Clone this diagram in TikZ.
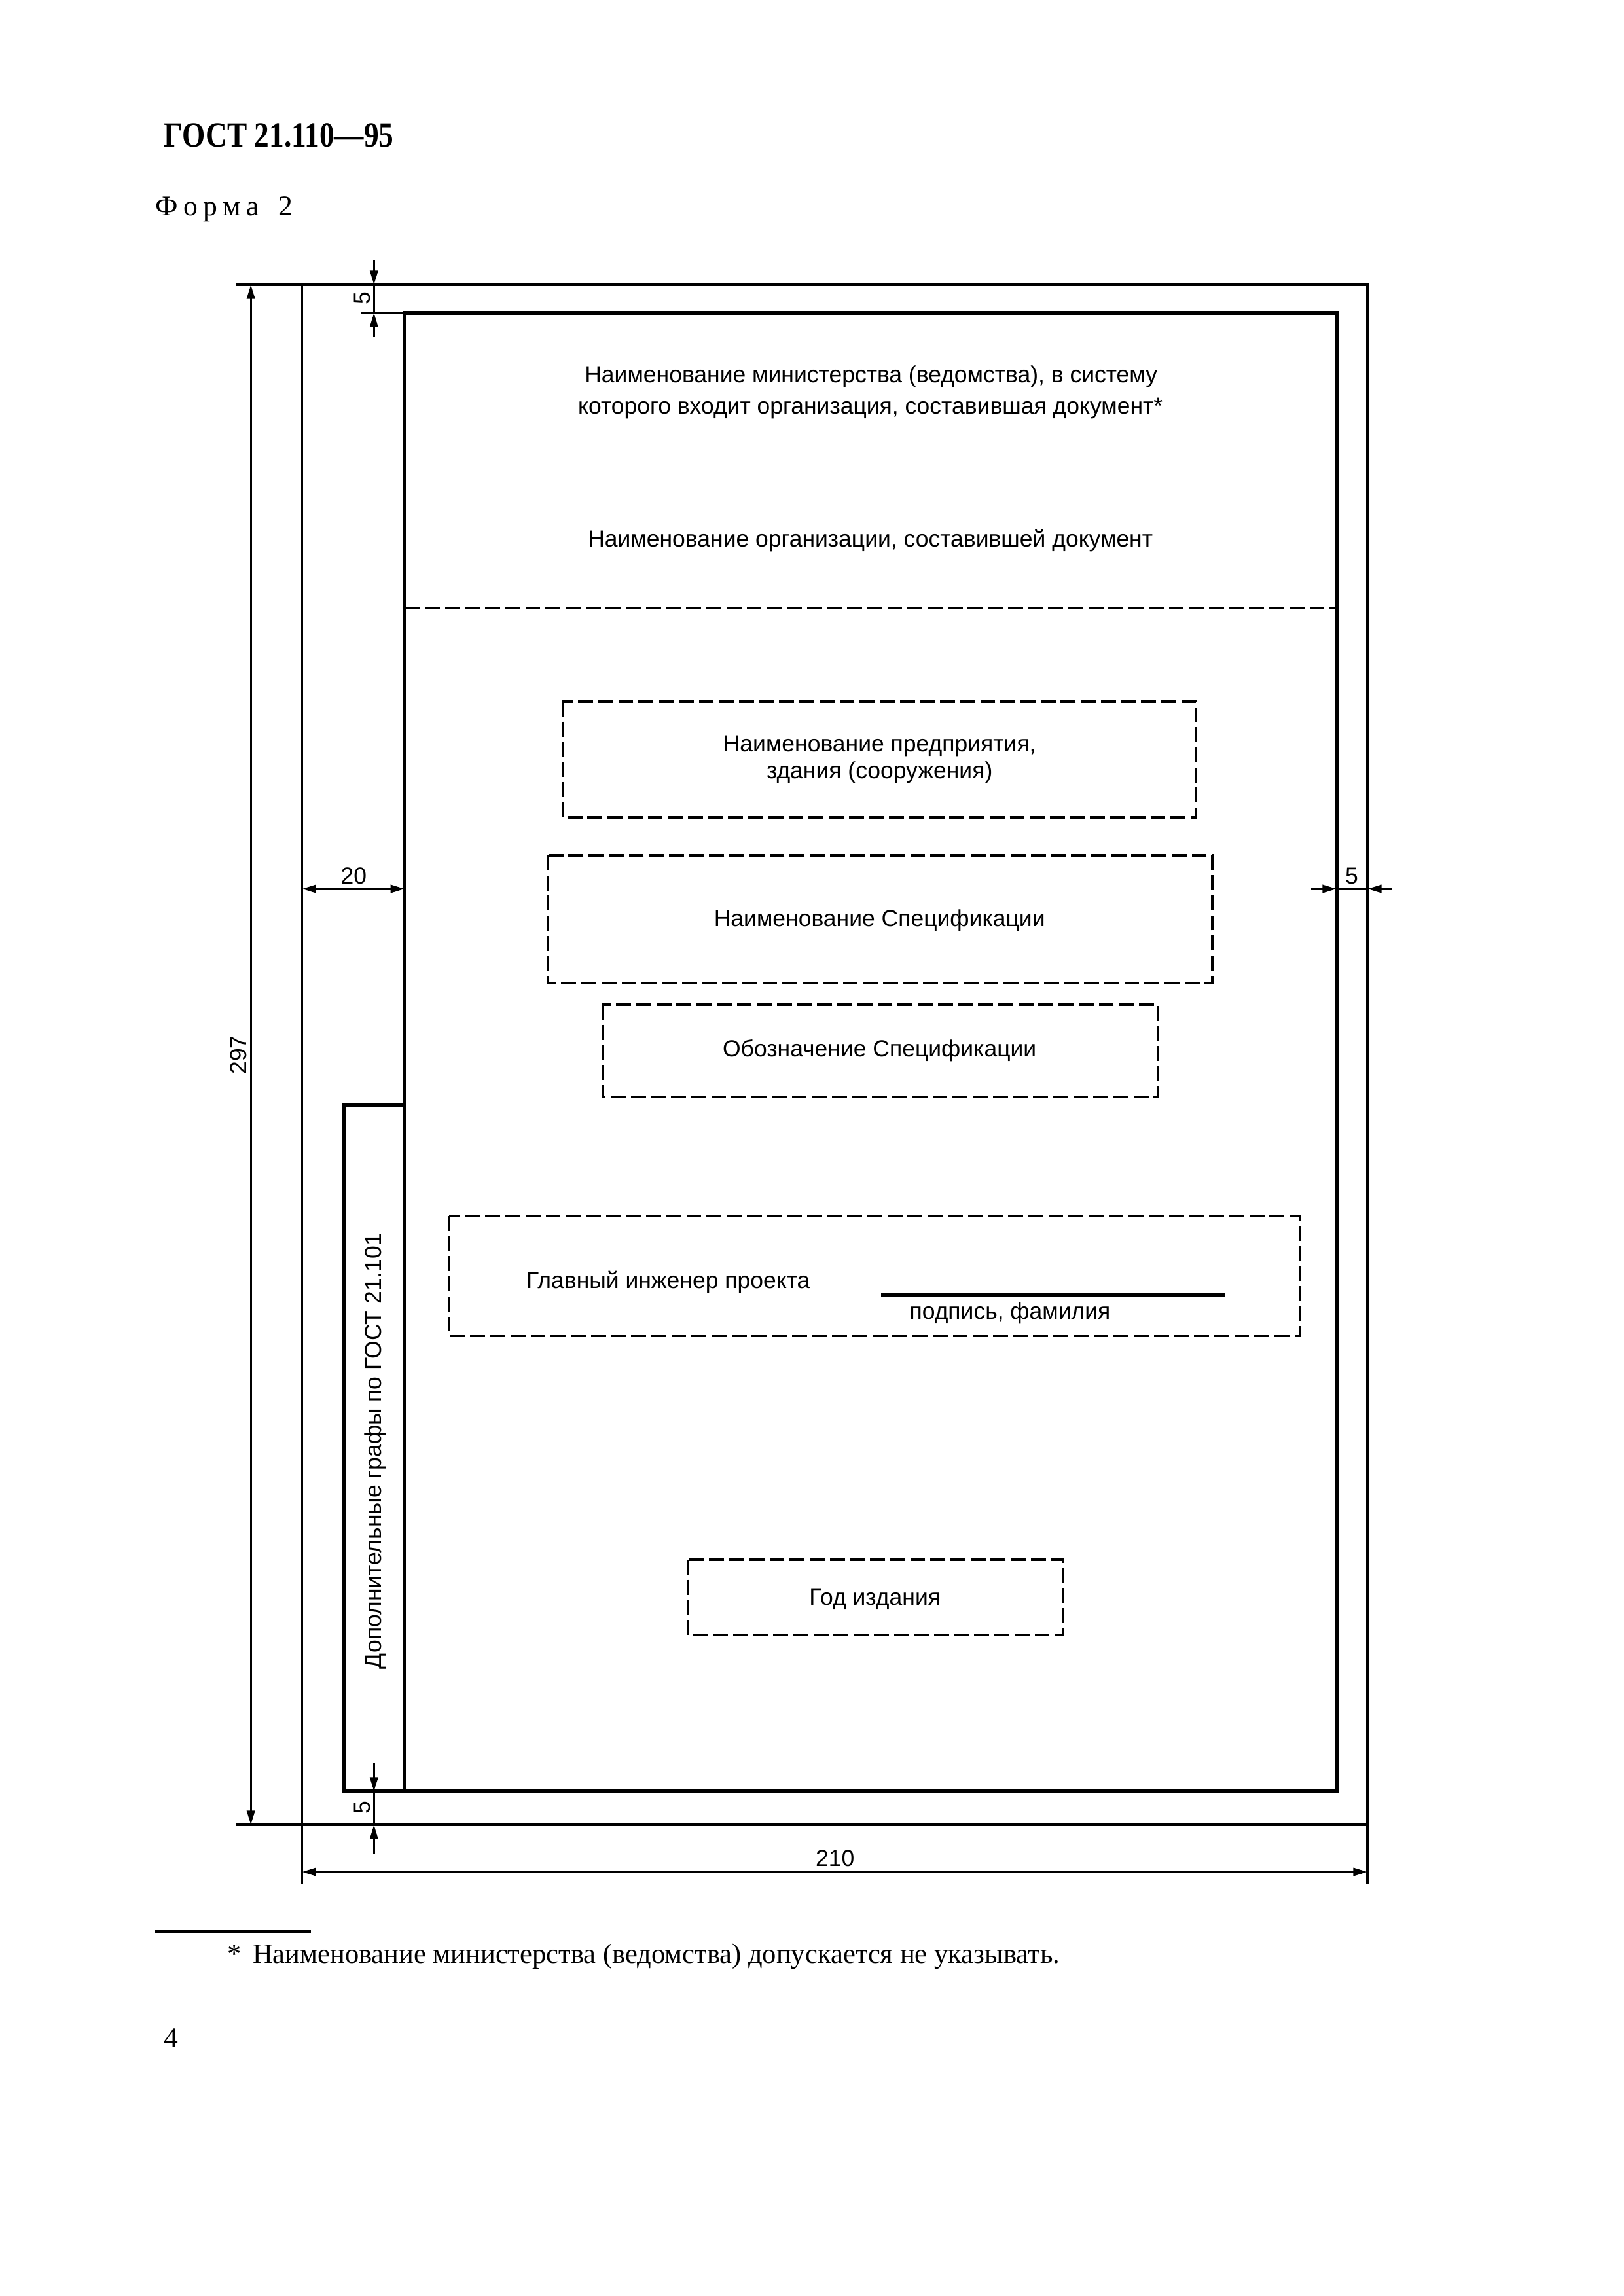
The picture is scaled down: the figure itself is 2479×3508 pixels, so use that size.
\documentclass[tikz,border=0pt]{standalone}
\usepackage{graphicx}
\usepackage{fontspec}
\setmainfont{Liberation Serif}
\newfontfamily\arialf{Liberation Sans}
\usetikzlibrary{arrows.meta}
\begin{document}
\begin{tikzpicture}[x=0.08471mm,y=-0.08467mm,
  thinln/.style={line width=0.8pt},
  thickln/.style={line width=1.45pt},
  dashbox/.style={line width=0.8pt, dash pattern=on 5.5pt off 1.9pt},
  dimtip/.style={-{Triangle[length=5.2pt,width=2.9pt]}},
  dimboth/.style={{Triangle[length=5.2pt,width=2.9pt]}-{Triangle[length=5.2pt,width=2.9pt]}},
  lbl/.style={font=\arialf\fontsize{8.55pt}{10pt}\selectfont, inner sep=0pt},
  serif/.style={font=\fontsize{10.5pt}{12pt}\selectfont, inner sep=0pt}]
\useasboundingbox (0,0) rectangle (2479,3508);

% header
\node[anchor=base west, inner sep=0pt] (title) at (250,224)
  {\fontsize{13pt}{15pt}\selectfont\bfseries\scalebox{0.84}[1]{ГОСТ 21.110—95}};
\node[serif, anchor=base west] (forma) at (237,329)
  {Ф\kern2pt о\kern2pt р\kern2pt м\kern2pt а\hspace{7pt}2};

% frame corners
\coordinate (OTL) at (461,435);
\coordinate (OTR) at (2088,435);
\coordinate (OBR) at (2088,2788);
\coordinate (OBL) at (461,2788);
\coordinate (ITL) at (618,478);
\coordinate (ITR) at (2041,478);
\coordinate (IBR) at (2041,2737);
\coordinate (IBL) at (618,2737);

\draw[thinln] (OTL) rectangle (OBR);
\draw[thickln] (ITL) rectangle (IBR);
\draw[thickln] (618,1689) -- (525,1689) -- (525,2737) -- (IBL);
\draw[dashbox] (618,929) -- (2041,929);

% extension lines
\coordinate (E297a) at (361,435);
\coordinate (E297b) at (361,2788);
\coordinate (E210a) at (461,2878);
\coordinate (E210b) at (2088,2878);
\coordinate (E5t) at (551,478);
\draw[thinln] (E297a) -- (OTL);
\draw[thinln] (E297b) -- (OBL);
\draw[thinln] (OBL) -- (E210a);
\draw[thinln] (OBR) -- (E210b);
\draw[thinln] (E5t) -- (ITL);

% dimension 297
\coordinate (D297a) at (383,435);
\coordinate (D297b) at (383,2788);
\draw[thinln, dimboth] (D297a) -- (D297b);
\node[lbl, rotate=90, anchor=base] (L297) at (376,1612) {297};

% dimension 210
\coordinate (D210a) at (461,2860);
\coordinate (D210b) at (2088,2860);
\draw[thinln, dimboth] (D210a) -- (D210b);
\node[lbl, anchor=base] (L210) at (1275,2851) {210};

% dimension 20
\coordinate (D20a) at (461,1358);
\coordinate (D20b) at (618,1358);
\draw[thinln, dimboth] (D20a) -- (D20b);
\node[lbl, anchor=base] (L20) at (540,1350) {20};

% right 5
\coordinate (R5s) at (2002,1358);
\coordinate (R5a) at (2041,1358);
\coordinate (R5b) at (2088,1358);
\coordinate (R5e) at (2125,1358);
\draw[thinln, dimtip] (R5s) -- (R5a);
\draw[thinln] (R5a) -- (R5b);
\draw[thinln, dimtip] (R5e) -- (R5b);
\node[lbl, anchor=base] (LR5) at (2064,1350) {5};

% top 5
\coordinate (T5s) at (571,398);
\coordinate (T5a) at (571,435);
\coordinate (T5b) at (571,478);
\coordinate (T5e) at (571,515);
\draw[thinln, dimtip] (T5s) -- (T5a);
\draw[thinln] (T5a) -- (T5b);
\draw[thinln, dimtip] (T5e) -- (T5b);
\node[lbl, rotate=90, anchor=base] (LT5) at (565,456) {5};

% bottom 5
\coordinate (B5s) at (571,2693);
\coordinate (B5a) at (571,2737);
\coordinate (B5b) at (571,2788);
\coordinate (B5e) at (571,2832);
\draw[thinln, dimtip] (B5s) -- (B5a);
\draw[thinln] (B5a) -- (B5b);
\draw[thinln, dimtip] (B5e) -- (B5b);
\node[lbl, rotate=90, anchor=base] (LB5) at (565,2762) {5};

% side text
\node[lbl, rotate=90, anchor=base] (side) at (582,2217) {Дополнительные графы по ГОСТ 21.101};

% upper texts
\node[lbl, anchor=base] (t1) at (1330,584) {Наименование министерства (ведомства), в систему};
\node[lbl, anchor=base] (t2) at (1329,632) {которого входит организация, составившая документ*};
\node[lbl, anchor=base] (t3) at (1329,835) {Наименование организации, составившей документ};

% box 1
\draw[dashbox] (859,1072) rectangle (1826,1249);
\node[lbl, anchor=base] (b1a) at (1343,1148) {Наименование предприятия,};
\node[lbl, anchor=base] (b1b) at (1343,1189) {здания (сооружения)};

% box 2
\draw[dashbox] (837,1307) rectangle (1851,1502);
\node[lbl, anchor=base] (b2) at (1343,1415) {Наименование Спецификации};

% box 3
\draw[dashbox] (920,1535) rectangle (1768,1676);
\node[lbl, anchor=base] (b3) at (1343,1614) {Обозначение Спецификации};

% box 4
\draw[dashbox] (686,1858) rectangle (1985,2041);
\node[lbl, anchor=base west] (b4a) at (803,1968) {Главный инженер проекта};
\coordinate (SGa) at (1345,1978);
\coordinate (SGb) at (1871,1978);
\draw[line width=1.6pt] (SGa) -- (SGb);
\node[lbl, anchor=base west] (b4b) at (1388,2015) {подпись, фамилия};

% box 5
\draw[dashbox] (1050,2383) rectangle (1623,2498);
\node[lbl, anchor=base] (b5) at (1336,2452) {Год издания};

% footnote
\coordinate (FNa) at (237,2951);
\coordinate (FNb) at (475,2951);
\draw[line width=0.8pt] (FNa) -- (FNb);
\node[inner sep=0pt, font=\fontsize{10.25pt}{12pt}\selectfont, anchor=base west] (fn) at (346,2999)
  {*\hspace{4.3pt}Наименование министерства (ведомства) допускается не указывать.};
\node[serif, anchor=base west] (page) at (250,3128) {4};
\end{tikzpicture}
\end{document}
